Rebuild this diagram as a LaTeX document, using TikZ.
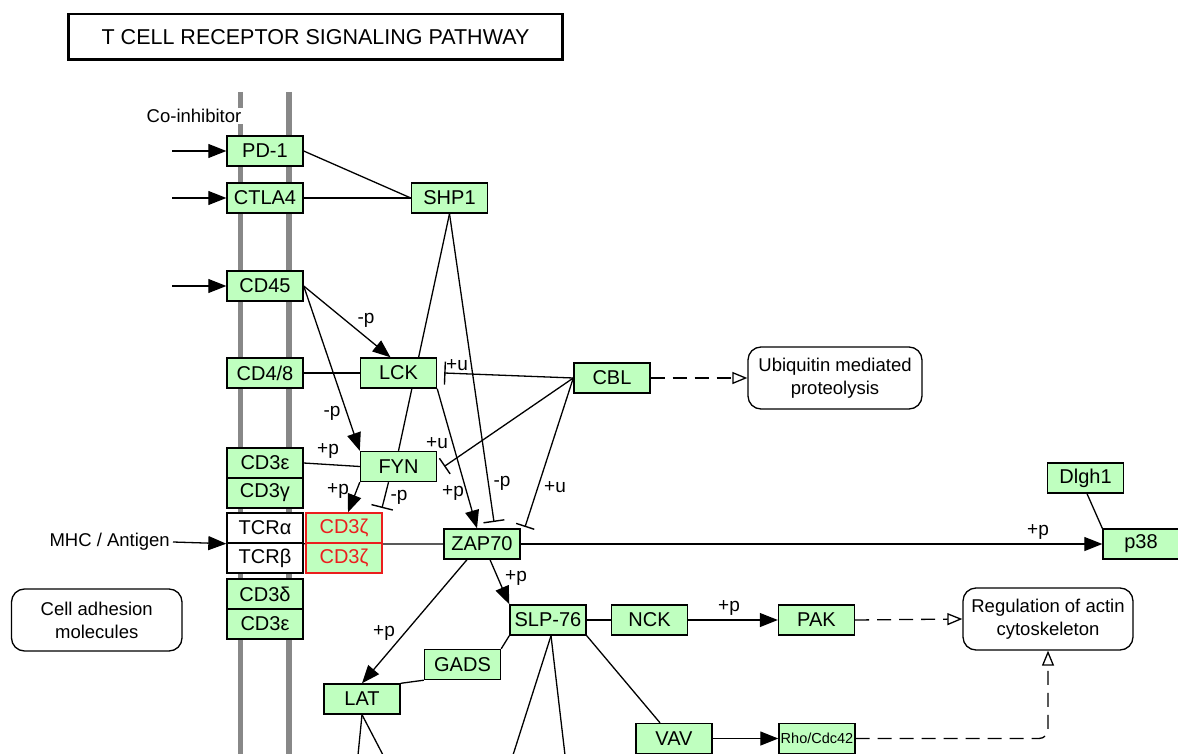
\documentclass[tikz,border=0pt]{standalone}
\usepackage{fontspec}
\setmainfont{Liberation Sans}
\usetikzlibrary{arrows.meta,calc}
\definecolor{kgreen}{RGB}{191,255,191}
\definecolor{kred}{RGB}{235,30,30}
\definecolor{memgray}{RGB}{136,136,136}
\begin{document}
\begin{tikzpicture}[x=1pt,y=-1pt,
  gene/.style={draw=black, fill=kgreen, line width=1.4pt, minimum width=76pt, minimum height=30pt, inner sep=0pt, font=\fontsize{20}{22}\selectfont},
  whitegene/.style={gene, fill=white},
  redgene/.style={gene, draw=kred, text=kred},
  mapbox/.style={draw=black, fill=white, line width=1.3pt, rounded corners=13pt, align=center, inner sep=0pt, font=\fontsize{18.5}{23}\selectfont},
  lbl/.style={font=\fontsize{19}{20}\selectfont, inner sep=0pt},
  plain/.style={font=\fontsize{18.5}{21}\selectfont, inner sep=3pt},
  conn/.style={draw=black, line width=1.3pt},
  act/.style={conn, -{Triangle[length=18pt,width=14pt]}},
  inh/.style={conn, -{Bar[width=21pt,line width=1.4pt]}},
  ind/.style={conn, dash pattern=on 14pt off 8pt, -{Triangle[open,length=15pt,width=12pt,fill=white]}},
  mem/.style={draw=memgray, line width=5.5pt}
]
\useasboundingbox (0,0) rectangle (1178,754);
\clip (0,0) rectangle (1178,754);

% title
\node[draw=black, line width=2.5pt, minimum width=494pt, minimum height=45.5pt, inner sep=0pt, font=\fontsize{21.5}{24}\selectfont] (title) at (315.5,36.7) {T CELL RECEPTOR SIGNALING PATHWAY};

% membrane
\coordinate (m1t) at (240.5,92); \coordinate (m1b) at (240.5,754);
\coordinate (m2t) at (289,92);   \coordinate (m2b) at (289,754);
\draw[mem] (m1t) -- (m1b);
\draw[mem] (m2t) -- (m2b);

\node[plain, fill=white, inner sep=1.5pt] (coinh) at (194,116) {Co-inhibitor};

% nodes
\node[gene] (PD1)   at (265,151) {PD-1};
\node[gene] (CTLA4) at (265,198) {CTLA4};
\node[gene] (CD45)  at (265,286) {CD45};
\node[gene] (CD48)  at (265,373) {CD4/8};
\node[gene] (CD3e)  at (265,463) {CD3ε};
\node[gene] (CD3g)  at (265,493) {CD3γ};
\node[whitegene] (TCRa) at (265,528) {TCRα};
\node[whitegene] (TCRb) at (265,558) {TCRβ};
\node[gene] (CD3d)  at (265,594) {CD3δ};
\node[gene] (CD3ee) at (265,624) {CD3ε};

\node[gene] (SHP1)  at (449.5,198) {SHP1};
\node[gene] (LCK)   at (398.5,373) {LCK};
\node[gene] (FYN)   at (398.5,466.5) {FYN};
\node[gene] (CBL)   at (612,378) {CBL};
\node[gene] (ZAP70) at (482,544) {ZAP70};
\node[gene] (SLP76) at (548,620) {SLP-76};
\node[gene] (GADS)  at (462.5,664.5) {GADS};
\node[gene] (LAT)   at (362,699) {LAT};
\node[gene] (NCK)   at (649.5,620) {NCK};
\node[gene] (PAK)   at (816.5,620) {PAK};
\node[gene] (VAV)   at (674,738.5) {VAV};
\node[gene, font=\fontsize{14.5}{16}\selectfont] (Rho) at (817,738.5) {Rho/Cdc42};
\node[gene] (Dlgh1) at (1085.5,478) {Dlgh1};
\node[gene] (p38)   at (1141,544) {p38};

\node[mapbox, minimum width=174pt, minimum height=62pt] (Ubiq) at (835,378) {Ubiquitin mediated\\proteolysis};
\node[mapbox, minimum width=170.5pt, minimum height=62pt] (Adh) at (96.75,620) {Cell adhesion\\molecules};
\node[mapbox, minimum width=170pt, minimum height=62pt] (Reg) at (1048,619) {Regulation of actin\\cytoskeleton};

\node[plain, anchor=east] (MHC) at (173,542) {MHC / Antigen};

% free ends
\coordinate (inPD1) at (172,151);
\coordinate (inCTLA4) at (172,198);
\coordinate (inCD45) at (172,286);
\coordinate (shpbar) at (494,522);
\coordinate (cblbar) at (525,527);
\coordinate (fynbar) at (382,508);
\coordinate (latd1) at (358,755);
\coordinate (latd2) at (383,755);
\coordinate (slpd1) at (513,755);
\coordinate (slpd2) at (565,755);

% line through receptor complex, then the boxes over it
\draw[conn] (TCRa.south west) -- (ZAP70.west);
\node[redgene] (CDza) at (344,528) {CD3ζ};
\node[redgene] (CDzb) at (344,558) {CD3ζ};
\node[whitegene] at (TCRa) {TCRα};
\node[whitegene] at (TCRb) {TCRβ};

% connectors
\draw[act] (inPD1) -- (PD1.west);
\draw[act] (inCTLA4) -- (CTLA4.west);
\draw[act] (inCD45) -- (CD45.west);
\draw[conn] (PD1.east) -- (SHP1.west);
\draw[conn] (CTLA4.east) -- (SHP1.west);
\draw[conn] (CD48.east) -- (LCK.west);
\draw[conn] (CD3e.east) -- (FYN.west);
\draw[act] (CD45.east) -- ([xshift=-8pt]LCK.north);
\draw[act] (CD45.east) -- (FYN.north west);
\draw[act] (MHC.east) -- (TCRa.south west);
\draw[act] (ZAP70.east) -- (p38.west);
\draw[conn] ([xshift=1.5pt]Dlgh1.south) -- (p38.north west);
\draw[act] ([xshift=-15pt]ZAP70.south) -- (LAT.north);
\draw[act] ([xshift=8pt]ZAP70.south) -- (SLP76.north west);
\draw[conn] (SLP76.south west) -- (GADS.north east);
\draw[conn] (LAT.north east) -- (GADS.south west);
\draw[conn] (SLP76.east) -- (NCK.west);
\draw[act] (NCK.east) -- (PAK.west);
\draw[ind] (PAK.east) -- (Reg.west);
\draw[ind] (CBL.east) -- (Ubiq.west);
\draw[conn] (SLP76.south east) -- ([xshift=-14pt]VAV.north);
\draw[act] (VAV.east) -- (Rho.west);
\draw[ind, rounded corners=9pt] (Rho.east) -| (Reg.south);
\draw[conn] (LAT.south) -- (latd1);
\draw[conn] (LAT.south) -- (latd2);
\draw[conn] ([xshift=3pt]SLP76.south) -- (slpd1);
\draw[conn] ([xshift=3pt]SLP76.south) -- (slpd2);
\draw[act] (FYN.south west) -- ([xshift=4pt]CDza.north);
\draw[inh, -{Bar[width=22pt,line width=1.4pt]}] ([xshift=-10pt]FYN.south) -- (fynbar);
\draw[act] (LCK.south east) -- ([xshift=-5pt]ZAP70.north);
\draw[inh, -{Bar[width=23pt,line width=1.4pt]}] (CBL.west) -- ([xshift=7pt]LCK.east);
\draw[inh, -{Bar[width=19pt,line width=1.4pt]}] (CBL.west) -- ([xshift=7pt]FYN.east);
\draw[inh, -{Bar[width=19pt,line width=1.4pt]}] (CBL.west) -- (cblbar);
\draw[conn] (SHP1.south) -- (FYN.north);
\draw[inh] (SHP1.south) -- (shpbar);

% redraw node that a line passes behind
\node[gene] at (LCK) {LCK};

% edge labels
\node[lbl] (l1) at (366,320) {-p};
\node[lbl] (l2) at (332,413) {-p};
\node[lbl] (l3) at (328,451) {+p};
\node[lbl] (l4) at (338,491) {+p};
\node[lbl] (l5) at (399,497) {-p};
\node[lbl] (l6) at (453,493) {+p};
\node[lbl] (l7) at (502,483) {-p};
\node[lbl] (l8) at (457,365) {+u};
\node[lbl] (l9) at (437,443) {+u};
\node[lbl] (l10) at (555,487) {+u};
\node[lbl] (l11) at (1038,532) {+p};
\node[lbl] (l12) at (516,578) {+p};
\node[lbl] (l13) at (384,633) {+p};
\node[lbl] (l14) at (729,608) {+p};
\end{tikzpicture}
\end{document}
